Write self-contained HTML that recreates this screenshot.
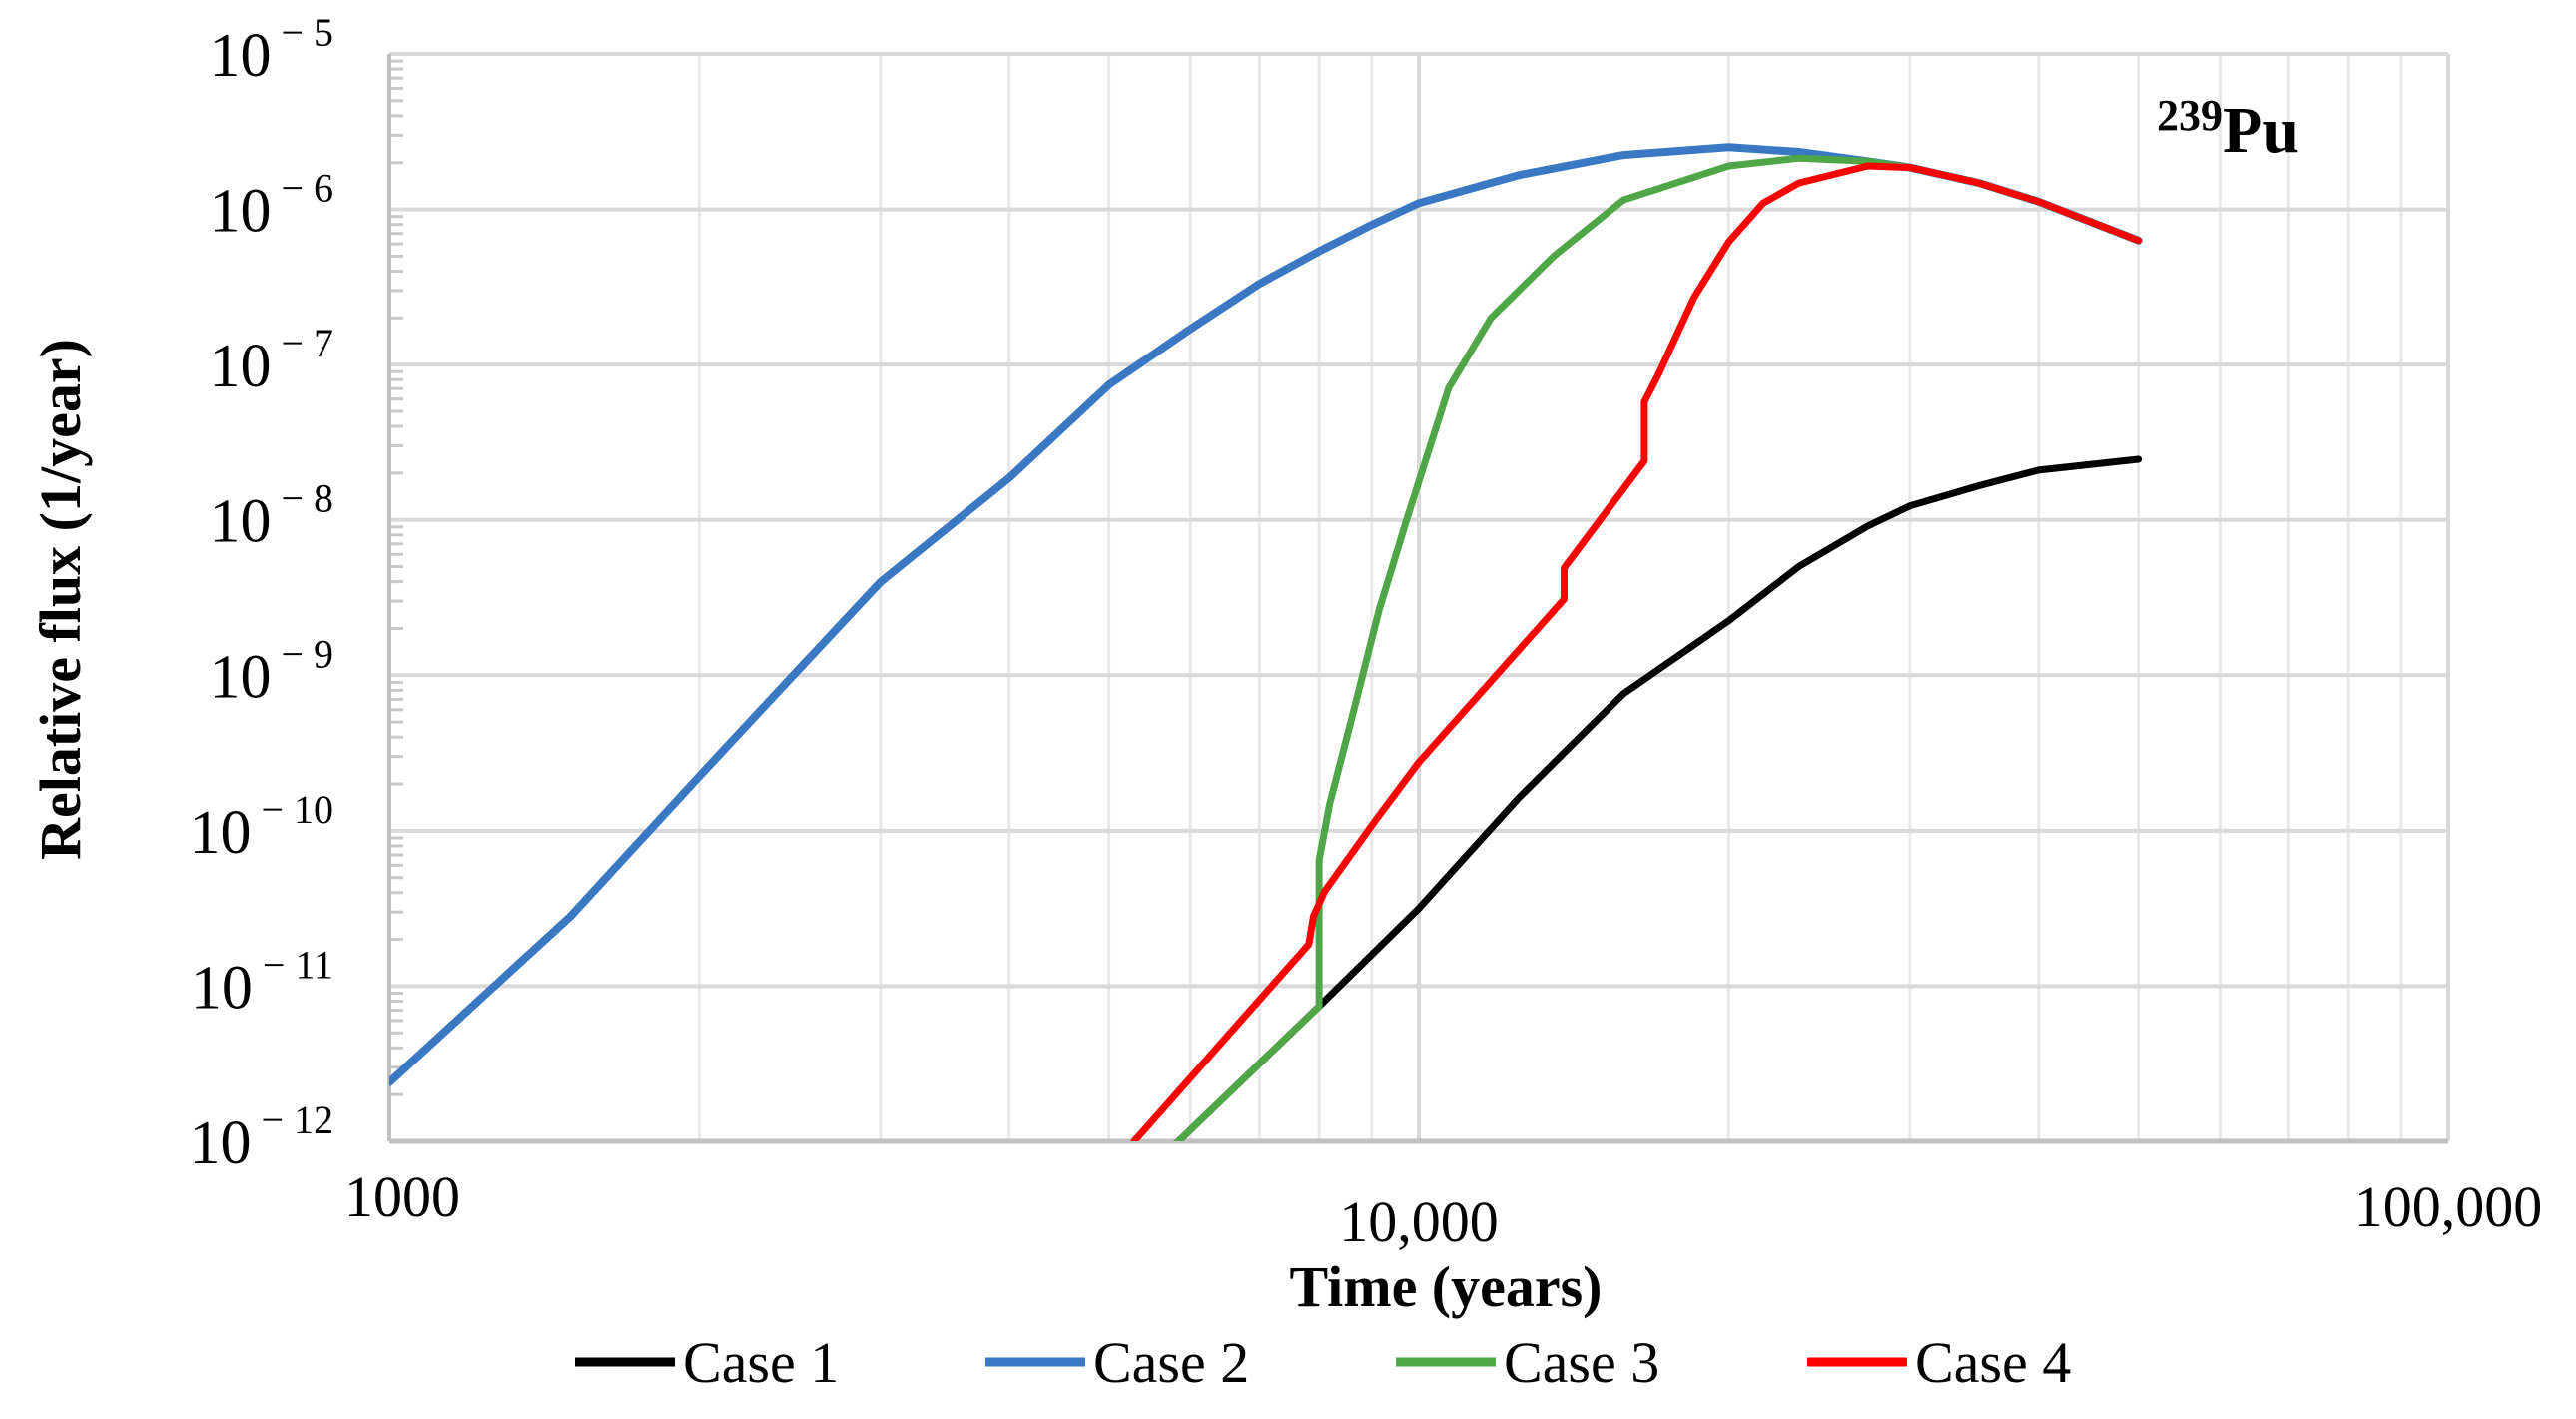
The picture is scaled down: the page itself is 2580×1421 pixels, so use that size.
<!DOCTYPE html>
<html><head><meta charset="utf-8"><style>
html,body{margin:0;padding:0;background:#fff;}
svg{display:block;font-family:"Liberation Serif",serif;}
</style></head><body>
<svg id="chart" width="2580" height="1421" viewBox="0 0 2580 1421" xmlns="http://www.w3.org/2000/svg">
<g id="grid"></g>
<g id="axes"></g>
<g id="series"></g>
<text transform="translate(80,600) rotate(-90)" text-anchor="middle" font-size="58" font-weight="bold">Relative flux (1/year)</text>
<text x="1448" y="1308" text-anchor="middle" font-size="58" font-weight="bold">Time (years)</text>
<text x="2160" y="152" font-size="66" font-weight="bold"><tspan font-size="44" dy="-22">239</tspan><tspan dy="22">Pu</tspan></text>
<g id="legend"></g>
</svg>
<script>
const xTickValues=[1000,10000,100000];
const xTickLabels=["1000","10,000","100,000"];
const yExponents=[-5,-6,-7,-8,-9,-10,-11,-12];
const seriesNames=["Case 1","Case 2","Case 3","Case 4"];
const seriesColors=["#000000","#3a78c4","#4ea646","#ff0000"];
const case1X=[5800,8000,10000,12500,15800,20000,23400,27300,30000,35000,40000,50000];
const case1Y=[-12.02,-11.13,-10.5,-9.79,-9.12,-8.65,-8.3,-8.04,-7.91,-7.78,-7.68,-7.61];
const case2X=[1000,1500,2000,2500,3000,4000,5000,6000,7000,8000,9000,10000,12500,15800,20000,23400,27300,30000,35000,40000,50000];
const case2Y=[-11.62,-10.55,-9.65,-8.96,-8.4,-7.73,-7.13,-6.77,-6.48,-6.27,-6.1,-5.96,-5.78,-5.65,-5.6,-5.63,-5.69,-5.73,-5.83,-5.95,-6.2];
const case3X=[5800,8000,8000,8190,8590,9150,9730,10690,11750,13530,15800,20000,23400,27300,30000,35000,40000,50000];
const case3Y=[-12.02,-11.13,-10.19,-9.83,-9.3,-8.58,-8.0,-7.15,-6.7,-6.3,-5.94,-5.72,-5.67,-5.69,-5.73,-5.83,-5.95,-6.2];
const case4X=[5290,7820,7900,8100,9060,10000,13840,13840,16560,16560,17100,18500,20000,21600,23400,27300,30000,35000,40000,50000];
const case4Y=[-12,-10.73,-10.55,-10.39,-9.94,-9.56,-8.51,-8.31,-7.62,-7.24,-7.06,-6.57,-6.21,-5.96,-5.83,-5.72,-5.73,-5.83,-5.95,-6.2];

const L=390,R=2452,T=54,B=1143;
const NS='http://www.w3.org/2000/svg';
function xs(v){return L+(Math.log10(v)-3)/2*(R-L);}
function ys(e){return T+(-5-e)/7*(B-T);}
function mk(tag,attrs,parent){const el=document.createElementNS(NS,tag);for(const k in attrs)el.setAttribute(k,attrs[k]);parent.appendChild(el);return el;}
const grid=document.getElementById('grid'),axes=document.getElementById('axes'),ser=document.getElementById('series'),leg=document.getElementById('legend');
for(let d=1000;d<100000;d*=10){for(let m=1;m<=10;m++){const v=d*m;const x=xs(v);
 const ln=mk('line',{x1:x,x2:x,y1:T,y2:B,stroke:(m===1||m===10)?'#d9d9d9':'#e8e8e8','stroke-width':(m===1||m===10)?4:3},grid);
 
 }}
yExponents.forEach(e=>{const y=ys(e);
 const ln=mk('line',{x1:L,x2:R,y1:y,y2:y,stroke:'#d9d9d9','stroke-width':4},grid);
 
 
 if(e>-12){for(let m=2;m<=9;m++){const yy=ys(e-1+Math.log10(m));
  const t=mk('line',{x1:L,x2:L+14,y1:yy,y2:yy,stroke:'#c8c8c8','stroke-width':3},axes);
  
  }}
 const tx=mk('text',{x:L-56,y:y+22,'text-anchor':'end','font-size':62},axes);
 
 
 tx.textContent='10';
 const sp=mk('tspan',{'font-size':40,dy:-30,dx:10},tx);sp.textContent='\u2212 '+(-e);
});
const ya=mk('line',{x1:L,x2:L,y1:T,y2:B,stroke:'#c0c0c0','stroke-width':4},axes);


const xa=mk('line',{x1:L,x2:R,y1:B,y2:B,stroke:'#c0c0c0','stroke-width':5},axes);


const xoff=[13,0,0],yoff=[75,100,85];
xTickValues.forEach((v,i)=>{const t=mk('text',{x:xs(v)+xoff[i],y:B+yoff[i],'text-anchor':'middle','font-size':58},axes);
 
 
 t.textContent=xTickLabels[i];});
const sx=[case1X,case2X,case3X,case4X],sy=[case1Y,case2Y,case3Y,case4Y];
const cp=mk('clipPath',{id:'clip'},ser);mk('rect',{x:L,y:T-10,width:R-L,height:B-T+10},cp);
const order=[1,0,2,3];
order.forEach(i=>{const d=sx[i].map((v,j)=>(j?'L':'M')+xs(v).toFixed(1)+','+ys(sy[i][j]).toFixed(1)).join(' ');
 const p=mk('path',{d:d,fill:'none',stroke:seriesColors[i],'stroke-width':i===1?8:7,'stroke-linejoin':'round','stroke-linecap':'round','clip-path':'url(#clip)'},ser);
 
 });
const lx=[576,987,1398,1810];
seriesNames.forEach((n,i)=>{const g=mk('g',{},leg);
 
 
 mk('line',{x1:lx[i],x2:lx[i]+100,y1:1364,y2:1364,stroke:seriesColors[i],'stroke-width':9},g);
 const t=mk('text',{x:lx[i]+108,y:1384,'font-size':58},g);t.textContent=n;});
</script>
</body></html>
